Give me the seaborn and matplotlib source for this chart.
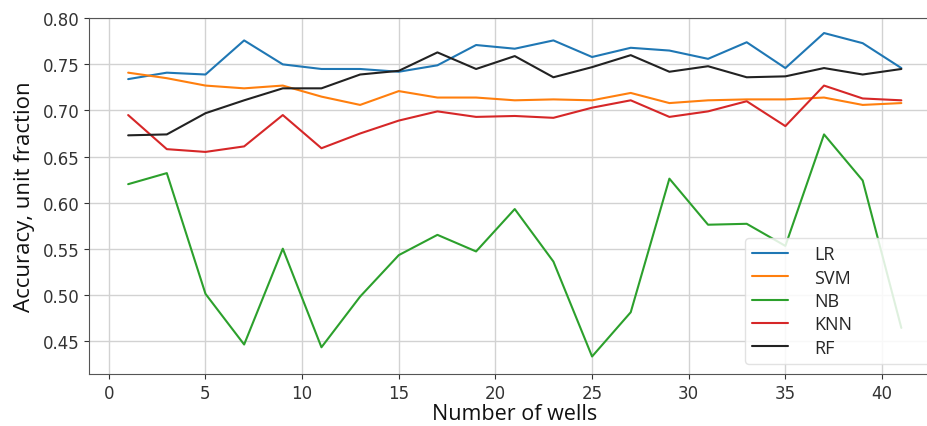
import numpy as np
import pandas as pd
import matplotlib.pyplot as plt
import seaborn as sns

wells = list(range(1, 42, 2))

lr = [0.734, 0.741, 0.739, 0.776, 0.750, 0.745, 0.745, 0.742, 0.749, 0.771, 0.767,
      0.776, 0.758, 0.768, 0.765, 0.756, 0.774, 0.746, 0.784, 0.773, 0.746]
svm = [0.741, 0.735, 0.727, 0.724, 0.727, 0.715, 0.706, 0.721, 0.714, 0.714, 0.711,
       0.712, 0.711, 0.719, 0.708, 0.711, 0.712, 0.712, 0.714, 0.706, 0.708]
nb = [0.620, 0.632, 0.501, 0.446, 0.550, 0.443, 0.498, 0.543, 0.565, 0.547, 0.593,
      0.536, 0.433, 0.481, 0.626, 0.576, 0.577, 0.553, 0.674, 0.624, 0.464]
knn = [0.695, 0.658, 0.655, 0.661, 0.695, 0.659, 0.675, 0.689, 0.699, 0.693, 0.694,
       0.692, 0.703, 0.711, 0.693, 0.699, 0.710, 0.683, 0.727, 0.713, 0.711]
rf = [0.673, 0.674, 0.697, 0.711, 0.724, 0.724, 0.739, 0.743, 0.763, 0.745, 0.759,
      0.736, 0.747, 0.760, 0.742, 0.748, 0.736, 0.737, 0.746, 0.739, 0.745]

models = ['LR', 'SVM', 'NB', 'KNN', 'RF']
cores = ['#1f77b4', '#ff7f0e', '#2ca02c', '#d62728', '#222222']

dados = pd.DataFrame({
    'wells': wells * 5,
    'acc': lr + svm + nb + knn + rf,
    'model': [m for m in models for _ in wells],
})

sns.set_style('ticks')

fig = plt.figure(figsize=(9.28, 4.27), dpi=100)
ax = fig.add_axes([89.5 / 928, 52 / 427, 850.5 / 928, 355.7 / 427])

sns.lineplot(data=dados, x='wells', y='acc', hue='model', hue_order=models,
             palette=cores, linewidth=1.5, ax=ax, legend=True)

ax.set_xlim(-1, 43)
ax.set_ylim(0.414, 0.80)
ax.set_xticks(np.arange(0, 45, 5))
ax.set_yticks(np.arange(0.45, 0.801, 0.05))
ax.set_yticklabels([f'{v:.2f}' for v in np.arange(0.45, 0.801, 0.05)])
ax.grid(True, color='#d2d2d2', linewidth=1)
ax.tick_params(labelsize=12, colors='#333333', labelcolor='#333333')
for s in ax.spines.values():
    s.set_color('#555555')
ax.spines['right'].set_visible(False)

ax.set_xlabel('Number of wells', fontsize=15.5, family='Open Sans', color='#111111', labelpad=1)
ax.set_ylabel('Accuracy, unit fraction', fontsize=16, family='Open Sans', color='#111111', labelpad=6)

# legenda colada no canto, cortada pela borda da figura como no original
handles, labels = ax.get_legend_handles_labels()
ax.legend(handles, labels, loc='lower left',
          bbox_to_anchor=(745 / 928, 62 / 427, 200 / 928, 0.2),
          bbox_transform=fig.transFigure, mode='expand', borderaxespad=0,
          prop={'family': 'Open Sans', 'size': 13},
          handlelength=2.0, handletextpad=1.45, labelspacing=0.3, borderpad=0.4,
          framealpha=0.85, edgecolor='#dddddd', fancybox=True)

plt.savefig('out.png', dpi=100)
